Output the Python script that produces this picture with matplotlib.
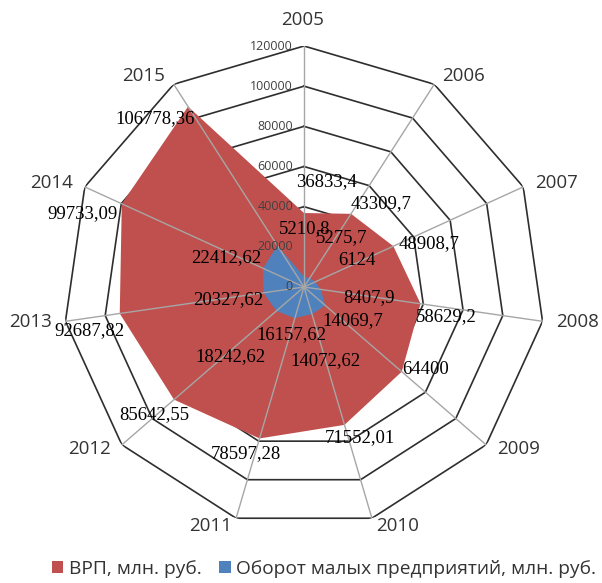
import numpy as np
import matplotlib
matplotlib.use("Agg")
import matplotlib.pyplot as plt
from matplotlib.patches import Patch

# Данные
years = ["2005", "2006", "2007", "2008", "2009", "2010",
         "2011", "2012", "2013", "2014", "2015"]
vrp = [36833.4, 43309.7, 48908.7, 58629.2, 64400, 71552.01,
       78597.28, 85642.55, 92687.82, 99733.09, 106778.36]
oborot = [5210.8, 5275.7, 6124, 8407.9, 14069.7, 14072.62,
          16157.62, 18242.62, 20327.62, 22412.62, 24497.62]
oborot_show_label = [True] * 10 + [False]
r_ticks = [0, 20000, 40000, 60000, 80000, 100000, 120000]
legend_names = ["ВРП, млн. руб.", "Оборот малых предприятий, млн. руб."]

red = "#C0504D"
blue = "#4F81BD"

# смещения подписей (в пикселях)
year_off = [(-1, 26), (29, 8), (33, 4), (35, -1), (32, -4), (26, -8),
            (-26, -8), (-32, -4), (-35, -1), (-33, 4), (-30, 8)]
vrp_off = [(22, 31), (30, 10), (36, 3), (26, -13), (24, 2), (15, -13),
           (-14, -15), (-20, -15), (-30, -17), (-39, -10), (-33, -12)]
ob_off = [(1, 48), (32, 40), (42, 21), (48, -8), (27, -15), (14, -46),
          (-3, -16), (-46, -46), (-35, -7), (-37, 11), (0, 0)]

n = len(years)
theta = np.arange(n) * 2 * np.pi / n
theta_c = np.append(theta, theta[0])
rmax = r_ticks[-1]

fig = plt.figure(figsize=(6.02, 5.83), dpi=100)
ax = fig.add_axes([(304 - 241) / 602, (296 - 241) / 583, 482 / 602, 482 / 583],
                  projection="polar")
ax.set_theta_zero_location("N")
ax.set_theta_direction(-1)
ax.set_ylim(0, rmax)
ax.grid(False)
ax.set_xticks([])
ax.set_yticks([])
ax.spines["polar"].set_visible(False)
ax.patch.set_alpha(0)

# сетка-многоугольники
for lev in r_ticks[1:]:
    ax.plot(theta_c, [lev] * (n + 1), color="#2e2e2e", lw=1.2, zorder=1)

# области
ax.fill(theta_c, np.append(vrp, vrp[0]), color=red, lw=0, zorder=2)
ax.fill(theta_c, np.append(oborot, oborot[0]), color=blue, lw=0, zorder=3)

# лучи
for t in theta:
    ax.plot([t, t], [0, rmax], color="#a6a6a6", lw=1.0, zorder=4)

# подписи оси значений
for lev in r_ticks:
    ax.annotate(str(lev), (0, lev), xytext=(-11, 0), textcoords="offset pixels",
                ha="right", va="center", fontsize=9, color="#404040",
                family="Open Sans", zorder=6)

# подписи категорий
for t, y, off in zip(theta, years, year_off):
    ax.annotate(y, (t, rmax), xytext=off, textcoords="offset pixels",
                ha="center", va="center", fontsize=13.5, color="#333333",
                family="Open Sans", annotation_clip=False)

# подписи данных
def lab(v):
    return str(v).replace(".", ",")

for t, v, off in zip(theta, vrp, vrp_off):
    ax.annotate(lab(v), (t, v), xytext=off, textcoords="offset pixels",
                ha="center", va="center", fontsize=13.5, color="black",
                family="Liberation Serif", zorder=7, annotation_clip=False)
for t, v, off, show in zip(theta, oborot, ob_off, oborot_show_label):
    if show:
        ax.annotate(lab(v), (t, v), xytext=off, textcoords="offset pixels",
                    ha="center", va="center", fontsize=13.5, color="black",
                    family="Liberation Serif", zorder=7)

handles = [Patch(facecolor=red, edgecolor="none"),
           Patch(facecolor=blue, edgecolor="none")]
fig.legend(handles, legend_names, loc="center", ncol=2,
           bbox_to_anchor=(324 / 602, 14 / 583), frameon=False,
           prop={"family": "Open Sans", "size": 13.8},
           handlelength=0.6, handleheight=0.6, handletextpad=0.3,
           columnspacing=0.9, labelcolor="#333333")

fig.savefig("out.png", dpi=100)
